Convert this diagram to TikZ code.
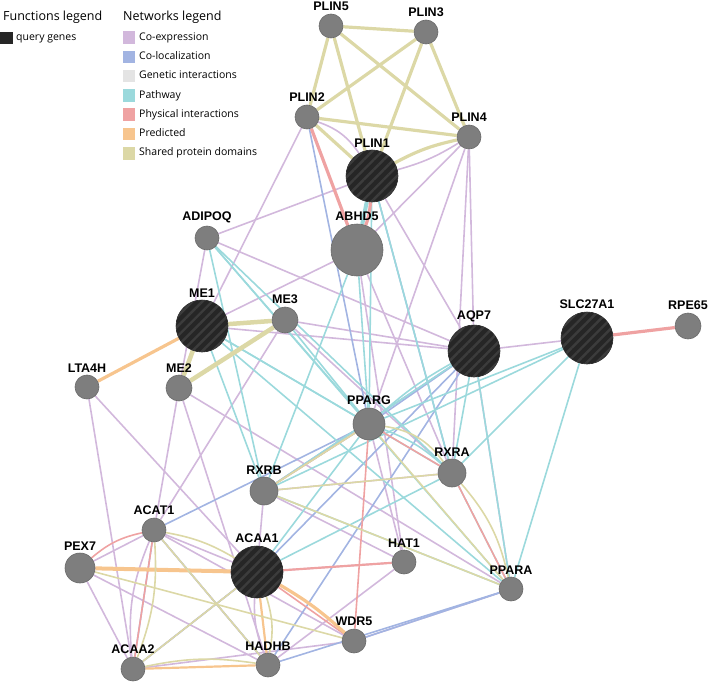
\documentclass[tikz,border=0pt]{standalone}
\usepackage{fontspec}
\setmainfont{Liberation Sans}
\newfontfamily\legendfont{Open Sans}
\usetikzlibrary{backgrounds,patterns.meta}
\definecolor{CoExp}{HTML}{D2B8DC}
\definecolor{CoLoc}{HTML}{A2B4E2}
\definecolor{Genetic}{HTML}{E4E4E4}
\definecolor{Pathway}{HTML}{9BD9DC}
\definecolor{Physical}{HTML}{EFA2A2}
\definecolor{Predicted}{HTML}{F7C58E}
\definecolor{Domains}{HTML}{DCD8A6}
\definecolor{GeneGray}{HTML}{7E7E7E}
\definecolor{GeneEdge}{HTML}{6A6A6A}
\definecolor{QueryBlack}{HTML}{262626}
\definecolor{QueryStripe}{HTML}{3C3C3C}
\tikzset{
  gene/.style={circle, draw=GeneEdge, fill=GeneGray, line width=0.6pt, inner sep=0pt, minimum size=24pt},
  query/.style={gene, draw=QueryBlack, fill=QueryBlack, postaction={pattern={Lines[angle=45,distance=7pt,line width=2.4pt]}, pattern color=QueryStripe}},
  genelabel/.style={font=\bfseries\fontsize{12.5}{12.5}\selectfont, inner sep=1pt},
  legsq/.style={rectangle, inner sep=0pt, minimum size=12.5pt},
  legtext/.style={font=\legendfont\fontsize{10.5}{12}\selectfont, inner sep=0pt},
  coexp/.style={draw=CoExp, line width=1.6pt},
  coloc/.style={draw=CoLoc, line width=1.6pt},
  path/.style={draw=Pathway, line width=1.6pt},
  phys/.style={draw=Physical, line width=1.6pt},
  pred/.style={draw=Predicted, line width=1.6pt},
  dom/.style={draw=Domains, line width=1.6pt},
  heavy/.style={line width=3.2pt}
}

\begin{document}
\begin{tikzpicture}[x=1pt, y=-1pt, label distance=1.5pt]
  \useasboundingbox (0,0) rectangle (709,682);

  % legends
  \node[anchor=base west, inner sep=0pt, font=\legendfont\fontsize{12.5}{14}\selectfont] (funclegend) at (3,21) {Functions legend};
  \node[anchor=base west, inner sep=0pt, font=\legendfont\fontsize{12.5}{14}\selectfont] (netlegend) at (123,21) {Networks legend};
  \node[legsq, fill=QueryBlack] (qsq) at (6.5,38) {};
  \node[legtext, anchor=mid west] (qtext) at (16,38) {query genes};
  \foreach \col/\txt [count=\i] in {CoExp/Co-expression, CoLoc/Co-localization, Genetic/Genetic interactions, Pathway/Pathway, Physical/Physical interactions, Predicted/Predicted, Domains/Shared protein domains}
  {
    \node[legsq, fill=\col] (legsq\i) at (129,{37.5+19.3*(\i-1)}) {};
    \node[legtext, anchor=mid west] (legtxt\i) at (139,{37.5+19.3*(\i-1)}) {\txt};
  }

  % genes
  \node[gene, label={[genelabel]above:PLIN5}] (PLIN5) at (331,26) {};
  \node[gene, label={[genelabel]above:PLIN3}] (PLIN3) at (426,32) {};
  \node[gene, label={[genelabel]above:PLIN2}] (PLIN2) at (307,117) {};
  \node[gene, label={[genelabel]above:PLIN4}] (PLIN4) at (469,137) {};
  \node[query, minimum size=52pt, label={[genelabel]above:PLIN1}] (PLIN1) at (372,176) {};
  \node[gene, minimum size=52pt, label={[genelabel]above:ABHD5}] (ABHD5) at (357,250) {};
  \node[gene, label={[genelabel]above:ADIPOQ}] (ADIPOQ) at (207,238) {};
  \node[query, minimum size=52pt, label={[genelabel]above:ME1}] (ME1) at (202,326) {};
  \node[gene, minimum size=26pt, label={[genelabel]above:ME3}] (ME3) at (285,320) {};
  \node[gene, minimum size=26pt, label={[genelabel]above:ME2}] (ME2) at (179,388) {};
  \node[gene, label={[genelabel]above:LTA4H}] (LTA4H) at (87,387) {};
  \node[query, minimum size=52pt, label={[genelabel]above:AQP7}] (AQP7) at (474,351) {};
  \node[query, minimum size=52pt, label={[genelabel]above:SLC27A1}] (SLC27A1) at (587,338) {};
  \node[gene, minimum size=26pt, label={[genelabel]above:RPE65}] (RPE65) at (688,326) {};
  \node[gene, minimum size=32pt, label={[genelabel]above:PPARG}] (PPARG) at (369,424) {};
  \node[gene, minimum size=28pt, label={[genelabel]above:RXRA}] (RXRA) at (452,473) {};
  \node[gene, minimum size=28pt, label={[genelabel]above:RXRB}] (RXRB) at (264,491) {};
  \node[gene, label={[genelabel]above:HAT1}] (HAT1) at (404,562) {};
  \node[gene, label={[genelabel]above:PPARA}] (PPARA) at (511,589) {};
  \node[gene, label={[genelabel]above:WDR5}] (WDR5) at (354,641) {};
  \node[gene, label={[genelabel]above:ACAT1}] (ACAT1) at (154,530) {};
  \node[gene, minimum size=30pt, label={[genelabel]above:PEX7}] (PEX7) at (80,568) {};
  \node[query, minimum size=52pt, label={[genelabel]above:ACAA1}] (ACAA1) at (257,572) {};
  \node[gene, label={[genelabel]above:ACAA2}] (ACAA2) at (133,669) {};
  \node[gene, label={[genelabel]above:HADHB}] (HADHB) at (268,665) {};

  % interactions, behind the genes
  \begin{scope}[on background layer]
    % co-expression
    \foreach \a/\b in {PLIN5/PLIN4, PLIN2/ME1, PLIN1/ADIPOQ, PLIN4/AQP7, PLIN4/RXRA, PLIN4/ABHD5, PLIN4/PPARG,
        PLIN1/AQP7, AQP7/PPARA, ADIPOQ/AQP7, ADIPOQ/ME2, ABHD5/ME1, ABHD5/RXRA, ABHD5/HAT1, ME1/AQP7, ME3/AQP7,
        ME3/ACAT1, ME3/RXRA, ME2/ACAT1, ME2/HADHB, ME2/PPARA, LTA4H/ACAA2, LTA4H/ACAA1, ACAT1/ACAA1, ACAT1/HADHB,
        ACAT1/WDR5, PEX7/ACAT1, PEX7/HADHB, ACAA1/HAT1, ACAA1/RXRB, ACAA2/WDR5, HADHB/HAT1, WDR5/PPARA,
        RXRB/RXRA, RXRB/HAT1, PPARG/HAT1, AQP7/SLC27A1, PEX7/ACAA2, ACAA2/ACAA1}
      \draw[coexp] (\a) -- (\b);
    \draw[coexp] (PLIN2) to[bend left=18] (PLIN1);
    \draw[coexp] (PLIN4) to[bend left=8] (PLIN1);
    \draw[coexp] (ACAT1) to[bend right=14] (ACAA2);
    \draw[coexp] (ACAA1) to[bend right=12] (HADHB);
    % co-localization
    \foreach \a/\b in {ACAT1/PPARG, ACAT1/ACAA2, ACAT1/HADHB, ACAA1/AQP7, HADHB/AQP7, HADHB/PPARA, WDR5/PPARA,
        PLIN1/RXRA, PLIN2/PPARG, PPARG/AQP7, RXRB/AQP7, ACAA1/ACAA2}
      \draw[coloc] (\a) -- (\b);
    % pathway
    \foreach \a/\b in {PLIN1/PPARG, PLIN1/RXRA, ABHD5/PPARG, ABHD5/RXRB, ADIPOQ/PPARG, ADIPOQ/RXRB, ADIPOQ/RXRA,
        ADIPOQ/PPARA, ME1/PPARG, ME1/RXRB, ME1/RXRA, ME1/PPARA, ME3/PPARG, AQP7/RXRA, AQP7/RXRB, AQP7/PPARA,
        SLC27A1/PPARG, SLC27A1/RXRA, SLC27A1/RXRB, SLC27A1/PPARA, PPARG/RXRB, RXRA/PPARA, RXRB/PPARA,
        ACAA1/PPARG, ACAA1/RXRA}
      \draw[path] (\a) -- (\b);
    \draw[path] (AQP7) to[bend right=6] (PPARG);
    \draw[path] (PPARG) to[bend left=10] (RXRA);
    \draw[path, heavy, line width=4pt] (PLIN1) -- (ABHD5);
    % physical interactions
    \foreach \a/\b in {PPARG/RXRA, PPARG/RXRB, PPARG/WDR5, RXRA/PPARA, PEX7/ACAA1, ACAA1/WDR5, ACAT1/ACAA2}
      \draw[phys] (\a) -- (\b);
    \draw[phys] (PEX7) to[bend left=14] (ACAT1);
    \draw[phys, line width=2.2pt] (ACAA1) -- (HAT1);
    \draw[phys, heavy] (PLIN2) -- (ABHD5);
    \draw[phys, heavy] (PLIN1) to[bend left=8] (ABHD5);
    \draw[phys, heavy] (SLC27A1) -- (RPE65);
    % predicted
    \draw[pred, heavy] (LTA4H) -- (ME1);
    \draw[pred, heavy, line width=4pt] (PEX7) -- (ACAA1);
    \draw[pred, heavy] (ACAA1) to[bend left=6] (WDR5);
    \draw[pred, line width=2.2pt] (ACAA1) -- (HADHB);
    \draw[pred, line width=2.2pt] (ACAA2) -- (HADHB);
    % shared protein domains
    \foreach \a/\b in {PLIN5/PLIN3, PLIN5/PLIN2, PLIN5/PLIN1, PLIN5/PLIN4, PLIN3/PLIN2, PLIN3/PLIN1, PLIN3/PLIN4,
        PLIN2/PLIN4, PLIN2/PLIN1}
      \draw[dom, heavy] (\a) -- (\b);
    \draw[dom, heavy] (PLIN4) to[bend right=8] (PLIN1);
    \draw[dom, heavy, line width=4.5pt] (ME1) -- (ME3);
    \draw[dom, heavy, line width=4.5pt] (ME1) -- (ME2);
    \draw[dom, heavy, line width=4.5pt] (ME3) -- (ME2);
    \foreach \a/\b in {ACAT1/HADHB, ACAA1/ACAA2, PEX7/WDR5, PPARG/RXRB, PPARG/PPARA, RXRB/RXRA, RXRB/PPARA}
      \draw[dom] (\a) -- (\b);
    \draw[dom] (ACAT1) to[bend left=10] (ACAA1);
    \draw[dom] (ACAT1) to[bend left=12] (ACAA2);
    \draw[dom] (ACAA1) to[bend left=14] (HADHB);
    \draw[dom] (ACAA2) to[bend left=10] (HADHB);
    \draw[dom] (PPARG) to[bend left=22] (RXRA);
    \draw[dom] (RXRA) to[bend left=14] (PPARA);
  \end{scope}
\end{tikzpicture}
\end{document}
